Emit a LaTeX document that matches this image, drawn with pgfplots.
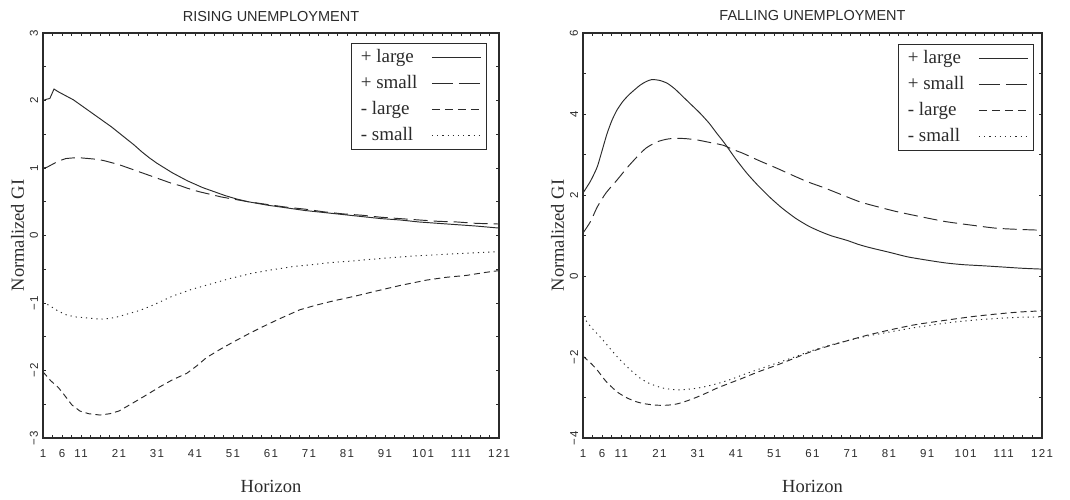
\documentclass[border=0pt]{standalone}
\usepackage{fontspec}
\setmainfont{Liberation Serif}
\newfontfamily\sansf{Liberation Sans}
\newfontfamily\tickf[LetterSpace=12]{Liberation Sans}
\usepackage{pgfplots}
\pgfplotsset{compat=1.18}
\definecolor{ink}{gray}{0.17}
\pgfplotsset{
  panel/.style={
    scale only axis, height=405pt, anchor=south west,
    xmin=1, xmax=121,
    xtick={1,6,11,21,31,41,51,61,71,81,91,101,111,121},
    minor xtick={1,3.5,...,121},
    tick align=inside, major tick length=3pt, minor tick length=3pt,
    tick style={ink, line width=0.8pt},
    /pgf/number format/assume math mode=true,
    ticklabel style={font=\tickf\fontsize{11.5}{13}\selectfont, text=ink},
    xticklabel style={inner sep=0pt, anchor=north, yshift=-11pt},
    yticklabel style={rotate=90, anchor=south, inner sep=0pt, outer sep=5pt},
    axis line style={line width=1.3pt, ink},
    title style={font=\sansf\fontsize{14.5}{16}\selectfont, text=ink, at={(0.5,1)}, anchor=base, inner sep=0pt, yshift=6pt},
    xlabel=Horizon, ylabel=Normalized GI,
    xlabel style={font=\fontsize{18.5}{20}\selectfont, text=ink, at={(0.5,0)}, anchor=base, inner sep=0pt, yshift=-54pt},
    ylabel style={font=\fontsize{18.5}{20}\selectfont, text=ink, at={(0,0.5)}, anchor=center, inner sep=0pt, yshift=25.5pt},
    legend plot pos=right,
    legend cell align=left,
    legend image code/.code={\draw[#1] (0pt,0pt) -- (49pt,0pt);},
    legend style={anchor=north east, font=\fontsize{19}{21}\selectfont, text=ink,
      draw=ink, line width=1.2pt, inner xsep=5pt, inner ysep=1pt, row sep=0pt,
      nodes={text height=13.5pt, text depth=4.5pt, inner ysep=4pt, inner xsep=4pt},
      /tikz/every odd column/.append style={column sep=10pt}},
    every axis plot/.append style={line width=0.95pt, ink},
  },
  sA/.style={solid},
  sB/.style={dash pattern=on 14pt off 6pt},
  sC/.style={dash pattern=on 6pt off 4pt},
  sD/.style={dash pattern=on 1.2pt off 4pt},
  lB/.style={dash pattern=on 21pt off 6pt},
  lC/.style={dash pattern=on 8pt off 5pt},
  lD/.style={dash pattern=on 1.2pt off 4pt},
}
\begin{document}
\begin{tikzpicture}
\path[use as bounding box] (0,0) rectangle (1070pt,500pt);
% ---------------- RISING ----------------
\begin{axis}[panel, at={(43pt,62pt)}, width=456pt,
  title={RISING UNEMPLOYMENT},
  ymin=-3, ymax=3, ytick={-3,-2,...,3}, minor ytick={-2.5,-1.5,...,2.5},
  yticklabels={−3,−2,−1,0,1,2,3},
  legend style={at={(1,1)}, xshift=-12pt, yshift=-10pt}]
\addlegendimage{sA, line width=0.95pt, ink}
\addlegendentry{+ large}
\addlegendimage{lB, line width=0.95pt, ink}
\addlegendentry{+ small}
\addlegendimage{lC, line width=0.95pt, ink}
\addlegendentry{- large}
\addlegendimage{lD, line width=0.95pt, ink}
\addlegendentry{- small}
\addplot[sA, forget plot] coordinates {
(1,2.00) (2,2.02) (2.8,2.03) (3.9,2.17) (5,2.13) (7,2.07) (9,2.01) (11,1.93) (13,1.85)
(15,1.77) (17,1.69) (19,1.61) (21,1.52) (23,1.43) (25,1.34) (27,1.24) (29,1.15) (31,1.07)
(33,1.00) (35,0.93) (37,0.87) (39,0.81) (41,0.76) (43,0.71) (46,0.65) (49,0.59) (52,0.54)
(55,0.50) (60,0.45) (65,0.41) (70,0.37) (75,0.34) (80,0.31) (85,0.28) (90,0.25) (95,0.23)
(100,0.20) (105,0.18) (110,0.16) (115,0.14) (121,0.11)};
\addplot[sB, forget plot] coordinates {
(1,1.00) (2,1.01) (3,1.04) (5,1.10) (7,1.14) (9,1.15) (11,1.15) (13,1.14) (15,1.13) (17,1.11)
(19,1.08) (21,1.05) (23,1.01) (25,0.97) (27,0.93) (29,0.89) (31,0.85) (33,0.81) (35,0.77)
(37,0.74) (39,0.70) (42,0.65) (45,0.61) (48,0.57) (51,0.54) (55,0.50) (60,0.46) (65,0.42)
(70,0.39) (75,0.35) (80,0.32) (85,0.30) (90,0.27) (95,0.25) (100,0.23) (105,0.21) (110,0.20)
(115,0.18) (121,0.17)};
\addplot[sC, forget plot] coordinates {
(1,-2.02) (3,-2.15) (5,-2.25) (6.3,-2.34) (8.6,-2.51) (10.7,-2.60) (13,-2.64) (16,-2.66)
(18.6,-2.64) (21,-2.60) (24.7,-2.48) (28,-2.37) (31.8,-2.24) (35,-2.14) (38.9,-2.04)
(41.5,-1.93) (44,-1.81) (47.5,-1.69) (51,-1.58) (55,-1.46) (58.9,-1.35) (63,-1.24)
(68.6,-1.10) (73,-1.03) (77.3,-0.97) (83,-0.90) (88.9,-0.82) (95,-0.74) (102,-0.66)
(107,-0.62) (112.6,-0.59) (117,-0.55) (121,-0.52)};
\addplot[sD, forget plot] coordinates {
(1,-0.98) (3,-1.05) (5,-1.12) (7.3,-1.18) (10,-1.21) (12.6,-1.22) (16,-1.24) (18.5,-1.23)
(21,-1.20) (24,-1.15) (26.5,-1.11) (30,-1.03) (35,-0.90) (40,-0.80) (45.7,-0.71) (50,-0.64)
(56,-0.56) (61,-0.51) (66.8,-0.46) (72,-0.43) (77,-0.40) (81.8,-0.38) (90,-0.34) (99.4,-0.30)
(110,-0.27) (121,-0.24)};
\end{axis}
% ---------------- FALLING ----------------
\begin{axis}[panel, at={(583pt,62pt)}, width=459pt,
  title={FALLING UNEMPLOYMENT},
  ymin=-4, ymax=6, ytick={-4,-2,...,6}, minor ytick={-3,-1,...,5},
  yticklabels={−4,−2,0,2,4,6},
  legend style={at={(1,1)}, xshift=-8pt, yshift=-11pt}]
\addlegendimage{sA, line width=0.95pt, ink}
\addlegendentry{+ large}
\addlegendimage{lB, line width=0.95pt, ink}
\addlegendentry{+ small}
\addlegendimage{lC, line width=0.95pt, ink}
\addlegendentry{- large}
\addlegendimage{lD, line width=0.95pt, ink}
\addlegendentry{- small}
\addplot[sA, forget plot, smooth, tension=0.4] coordinates {
(1,2.05) (3,2.35) (4.7,2.69) (6,3.10) (7.3,3.52) (8.6,3.85) (9.9,4.10) (11.5,4.32) (13.3,4.50)
(15.9,4.71) (17.5,4.80) (19,4.85) (21,4.83) (23,4.76) (25,4.62) (27.1,4.43) (29.3,4.23)
(31.6,4.02) (34,3.77) (36,3.52) (38,3.28) (41,2.88) (44,2.52) (47,2.21) (50,1.93)
(53,1.68) (56.5,1.43) (60,1.23) (63,1.10) (66,0.99) (70,0.88) (73,0.78) (76,0.70) (81.3,0.58)
(86,0.47) (91.7,0.38) (96,0.32) (100.4,0.28) (106,0.25) (111,0.22) (116,0.19) (121,0.17)};
\addplot[sB, forget plot, smooth, tension=0.4] coordinates {
(1,1.06) (3,1.35) (4.7,1.70) (7,2.05) (9.9,2.37) (12.5,2.67) (15.1,2.94) (17.5,3.16) (20.3,3.31)
(23,3.38) (25.5,3.40) (28,3.39) (30.8,3.36) (34,3.30) (37.6,3.23) (40,3.13) (42.8,3.03)
(47,2.85) (51.7,2.66) (55,2.52) (59.6,2.33) (64,2.18) (68,2.03) (73.4,1.83) (78,1.71)
(83,1.59) (90,1.45) (96,1.34) (103,1.25) (109,1.18) (115,1.15) (121,1.13)};
\addplot[sC, forget plot, smooth, tension=0.4] coordinates {
(1,-1.98) (3,-2.15) (4.7,-2.32) (7,-2.60) (9.9,-2.86) (12.5,-3.01) (15.1,-3.11) (17.5,-3.16)
(20.3,-3.19) (23,-3.19) (25.5,-3.16) (28,-3.09) (30.8,-2.99) (33.5,-2.88) (36,-2.77)
(39.5,-2.64) (42.8,-2.52) (47,-2.36) (51.7,-2.20) (56,-2.04) (60.3,-1.88) (64.5,-1.75)
(68.9,-1.63) (75,-1.47) (81.3,-1.33) (88,-1.20) (96,-1.09) (103,-1.00) (109,-0.94)
(115,-0.89) (121,-0.86)};
\addplot[sD, forget plot, smooth, tension=0.4] coordinates {
(1,-1.00) (3,-1.25) (6.2,-1.58) (8.5,-1.84) (10.7,-2.07) (13.3,-2.31) (15.9,-2.52) (18.5,-2.66)
(22,-2.77) (25.5,-2.81) (28,-2.80) (30.8,-2.77) (33.5,-2.72) (36.8,-2.64) (40,-2.54)
(42.8,-2.44) (47,-2.30) (51.7,-2.15) (56,-2.01) (60.3,-1.86) (65,-1.72) (70,-1.60)
(75,-1.49) (81.3,-1.38) (88,-1.27) (96,-1.16) (103,-1.09) (109,-1.05) (115,-1.02) (121,-1.01)};
\end{axis}
\end{tikzpicture}
\end{document}
